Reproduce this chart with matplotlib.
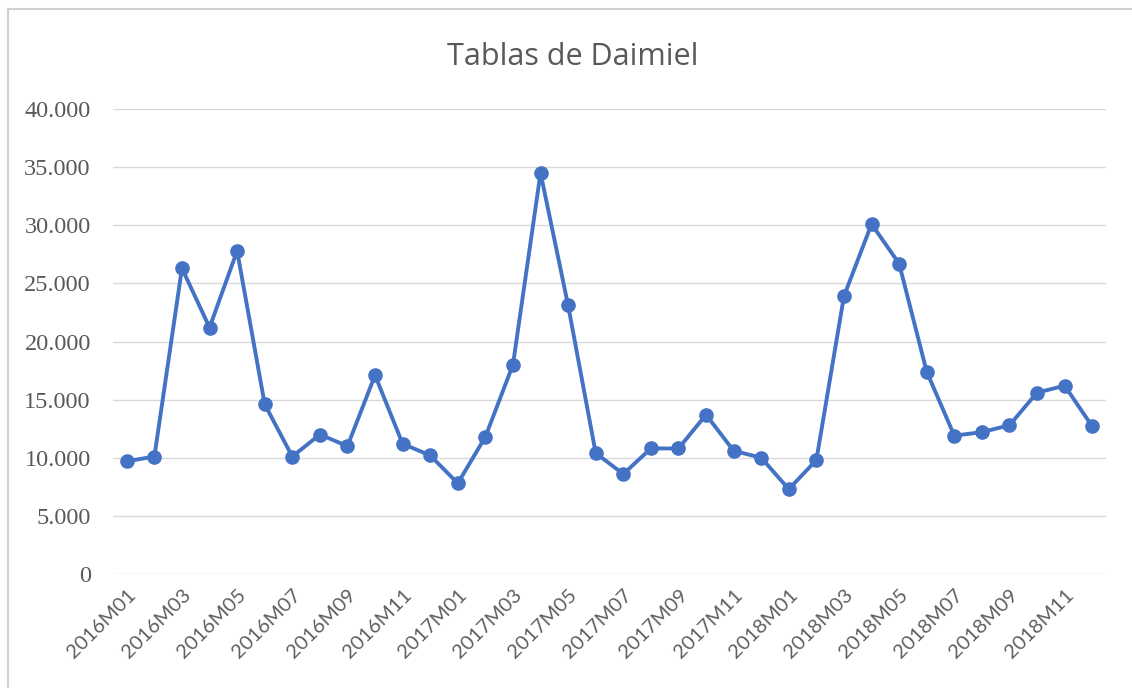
import numpy as np
import matplotlib.pyplot as plt
from matplotlib.patches import Rectangle
from matplotlib.ticker import FuncFormatter

# months 2016M01 .. 2018M12
months = [f"{y}M{m:02d}" for y in (2016, 2017, 2018) for m in range(1, 13)]
values = [9700, 10100, 26300, 21200, 27800, 14600, 10100, 12000, 11000, 17100, 11200, 10200,
          7800, 11800, 18000, 34500, 23100, 10400, 8600, 10800, 10800, 13700, 10600, 10000,
          7300, 9800, 23900, 30100, 26700, 17400, 11900, 12200, 12800, 15600, 16200, 12700]
title = "Tablas de Daimiel"

fig = plt.figure(figsize=(11.32, 6.88), dpi=100)
# marco gris del gráfico
fig.patches.append(Rectangle((8 / 1132, -0.1), 1.2, (688 - 9) / 688 + 0.1,
                             transform=fig.transFigure, fill=False,
                             edgecolor="#d0d0d0", linewidth=1.5))

ax = fig.add_axes([113 / 1132, (688 - 574) / 688, 993 / 1132, (574 - 109) / 688])
x = np.arange(len(months))
ax.plot(x, values, color="#4472C4", linewidth=2.8, marker="o", markersize=9.5,
        solid_joinstyle="round")

ax.set_xlim(-0.5, len(months) - 0.5)
ax.set_ylim(0, 40000)
ax.set_yticks(np.arange(0, 40001, 5000))
ax.yaxis.set_major_formatter(FuncFormatter(lambda v, p: f"{int(v):,}".replace(",", ".")))
ax.set_xticks(x[::2])
ax.set_xticklabels(months[::2], rotation=45, ha="right", rotation_mode="anchor",
                   fontsize=14.5, color="#5f5f5f", family="Lato")
for lbl in ax.get_yticklabels():
    lbl.set_family("Liberation Serif")
    lbl.set_fontsize(17.5)
    lbl.set_color("#595959")
ax.tick_params(axis="both", length=0)
ax.tick_params(axis="y", pad=16)
ax.tick_params(axis="x", pad=9)
ax.grid(axis="y", color="#d9d9d9", linewidth=1)
ax.set_axisbelow(True)
for s in ax.spines.values():
    s.set_visible(False)

fig.text(573 / 1132, 1 - 57 / 688, title, ha="center", va="center",
         fontsize=22, color="#595959", family="Open Sans")

fig.savefig("out.png", dpi=100)
